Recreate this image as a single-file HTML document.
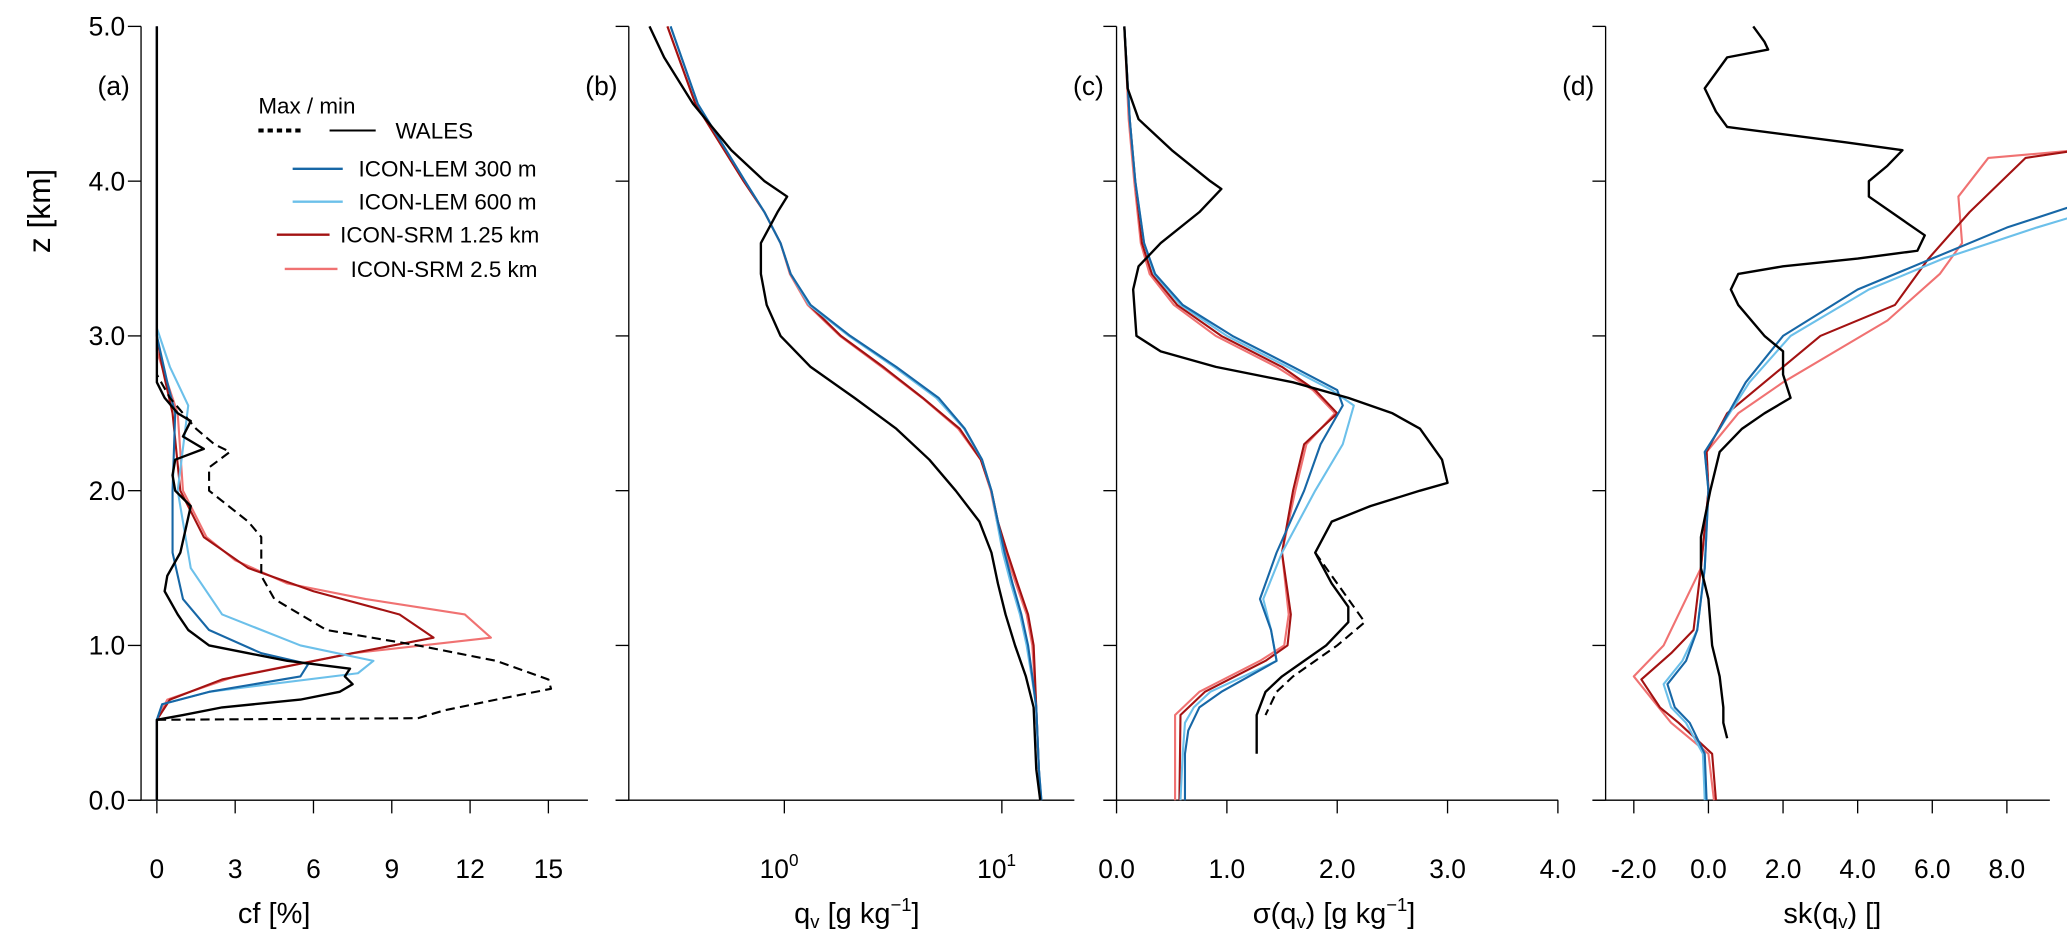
<!DOCTYPE html>
<html><head><meta charset="utf-8"><style>
html,body{margin:0;padding:0;background:#fff;}
svg{display:block;font-family:"Liberation Sans",sans-serif;}
</style></head><body>
<svg id="fig" width="2067" height="936" viewBox="0 0 1568 710" xmlns="http://www.w3.org/2000/svg">
<g id="axes"></g>
<g id="marks"></g>
<g font-size="17">
<text x="196" y="86">Max / min</text>
<line x1="196" y1="99" x2="231" y2="99" stroke="#000" stroke-width="3" stroke-dasharray="4,3"/>
<line x1="250" y1="99" x2="285" y2="99" stroke="#000" stroke-width="1.5"/>
<text x="300" y="105">WALES</text>
<line x1="222" y1="128" x2="260" y2="128" stroke="#1767a6" stroke-width="1.8"/>
<text x="272" y="134">ICON-LEM 300 m</text>
<line x1="222" y1="153" x2="260" y2="153" stroke="#6cc0ea" stroke-width="1.8"/>
<text x="272" y="159">ICON-LEM 600 m</text>
<line x1="210" y1="178" x2="250" y2="178" stroke="#a31212" stroke-width="1.8"/>
<text x="258" y="184">ICON-SRM 1.25 km</text>
<line x1="216" y1="204" x2="256" y2="204" stroke="#f07272" stroke-width="1.8"/>
<text x="266" y="210">ICON-SRM 2.5 km</text>
</g>
</svg>
<script>
const zA_black=[0,0.52,0.55,0.6,0.65,0.7,0.75,0.8,0.85,0.9,0.95,1.0,1.1,1.2,1.35,1.45,1.6,1.75,1.9,2.0,2.1,2.2,2.27,2.35,2.45,2.5,2.6,2.7,5.0];
const cfA_black=[0,0,1.0,2.5,5.5,7.0,7.5,7.2,7.4,5.0,3.5,2.0,1.2,0.8,0.3,0.4,0.9,1.1,1.3,0.7,0.6,0.7,1.8,1.0,1.3,0.8,0.3,0,0];
const zA_dash=[0.52,0.53,0.58,0.65,0.72,0.78,0.9,1.0,1.1,1.3,1.45,1.55,1.7,1.8,2.0,2.15,2.25,2.3,2.4,2.6,2.75];
const cfA_dash=[0,10.0,11.0,13.0,15.1,15.0,13.0,10.0,6.5,4.5,4.0,4.0,4.0,3.5,2.0,2.0,2.8,2.2,1.5,0.5,0];
const zA_lem300=[0,0.52,0.62,0.7,0.8,0.88,0.95,1.1,1.3,1.6,2.0,2.5,2.7,3.0,5.0];
const cfA_lem300=[0,0,0.2,2,5.5,5.8,4.0,2.0,1.0,0.6,0.6,0.7,0.4,0,0];
const zA_lem600=[0,0.52,0.62,0.7,0.82,0.9,1.0,1.2,1.5,2.0,2.55,2.8,3.05,5.0];
const cfA_lem600=[0,0,0.2,2,7.7,8.3,5.5,2.5,1.3,0.8,1.2,0.5,0,0];
const zA_srm125=[0,0.52,0.65,0.78,0.95,1.05,1.2,1.35,1.5,1.7,2.0,2.5,2.8,3.0,5.0];
const cfA_srm125=[0,0,0.5,2.5,7.5,10.6,9.3,6.0,3.5,1.8,0.9,0.6,0.2,0,0];
const zA_srm25=[0,0.52,0.65,0.8,0.95,1.05,1.2,1.3,1.4,1.55,1.7,2.0,2.5,2.9,5.0];
const cfA_srm25=[0,0,0.4,3,7.5,12.8,11.8,8.0,5.0,3.0,1.9,1.0,0.8,0,0];

const zB_black=[5.0,4.8,4.5,4.2,4.0,3.9,3.8,3.6,3.4,3.2,3.0,2.8,2.6,2.4,2.2,2.0,1.8,1.6,1.4,1.2,1.0,0.8,0.6,0.4,0.2,0];
const qB_black=[0.24,0.28,0.38,0.57,0.81,1.03,0.93,0.78,0.78,0.83,0.96,1.32,2.10,3.27,4.64,6.14,7.89,8.95,9.59,10.4,11.5,12.9,14.0,14.2,14.4,15.0];
const zB_model=[5.0,4.5,4.0,3.8,3.6,3.4,3.2,3.0,2.8,2.6,2.4,2.2,2.0,1.8,1.6,1.4,1.2,1.0,0.8,0.6,0.2,0];
const qB_lem300=[0.30,0.40,0.66,0.81,0.96,1.07,1.32,2.01,3.27,5.12,6.76,8.11,8.95,9.59,10.3,11.2,12.3,13.2,13.8,14.4,14.8,15.2];
const qB_lem600=[0.30,0.40,0.66,0.81,0.96,1.07,1.30,1.98,3.2,5.0,6.7,8.1,8.95,9.5,10.1,11.0,12.1,13.0,13.7,14.4,14.8,15.2];
const qB_srm125=[0.29,0.39,0.65,0.81,0.96,1.07,1.30,1.82,2.85,4.33,6.4,8.0,8.95,9.59,10.6,11.8,13.2,14.0,14.2,14.4,14.8,15.0];
const qB_srm25=[0.29,0.39,0.65,0.81,0.96,1.06,1.28,1.80,2.80,4.3,6.3,8.0,8.9,9.5,10.4,11.6,13.0,13.8,14.1,14.4,14.8,15.0];

const zC_black=[5.0,4.6,4.4,4.2,4.0,3.95,3.8,3.6,3.45,3.3,3.0,2.9,2.8,2.7,2.6,2.5,2.4,2.2,2.05,2.0,1.9,1.8,1.6,1.4,1.25,1.15,1.0,0.9,0.8,0.7,0.55,0.3];
const sC_black=[0.07,0.1,0.2,0.5,0.85,0.95,0.75,0.4,0.2,0.15,0.18,0.4,0.9,1.6,2.1,2.5,2.75,2.95,3.0,2.75,2.3,1.95,1.8,1.95,2.1,2.1,1.9,1.7,1.5,1.35,1.27,1.27];
const zC_dash=[1.6,1.4,1.25,1.15,1.0,0.9,0.8,0.7,0.55];
const sC_dash=[1.8,2.0,2.15,2.25,2.0,1.8,1.6,1.45,1.35];
const zC_lem300=[5.0,4.4,4.0,3.6,3.4,3.2,3.0,2.8,2.65,2.55,2.3,2.0,1.6,1.3,1.1,0.9,0.8,0.7,0.6,0.45,0.3,0];
const sC_lem300=[0.07,0.12,0.17,0.25,0.35,0.6,1.05,1.6,2.0,2.05,1.85,1.7,1.45,1.3,1.4,1.45,1.2,0.95,0.75,0.65,0.62,0.62];
const zC_lem600=[5.0,4.4,4.0,3.6,3.4,3.2,3.0,2.8,2.65,2.55,2.3,2.0,1.6,1.3,1.1,0.9,0.8,0.7,0.6,0.5,0.3,0];
const sC_lem600=[0.07,0.12,0.17,0.25,0.34,0.58,1.0,1.55,1.95,2.15,2.05,1.8,1.5,1.33,1.4,1.45,1.15,0.85,0.7,0.62,0.6,0.58];
const zC_srm125=[5.0,4.4,4.0,3.6,3.4,3.2,3.0,2.8,2.65,2.5,2.3,2.0,1.6,1.2,1.0,0.9,0.7,0.55,0];
const sC_srm125=[0.07,0.12,0.17,0.23,0.32,0.55,0.95,1.5,1.8,2.0,1.7,1.6,1.5,1.58,1.55,1.35,0.8,0.58,0.57];
const zC_srm25=[5.0,4.4,4.0,3.6,3.4,3.2,3.0,2.8,2.65,2.5,2.3,2.0,1.6,1.2,1.0,0.9,0.7,0.55,0];
const sC_srm25=[0.07,0.11,0.16,0.22,0.3,0.52,0.9,1.45,1.78,1.98,1.72,1.62,1.5,1.56,1.52,1.3,0.75,0.53,0.53];

const zD_black=[5.0,4.9,4.85,4.8,4.6,4.45,4.35,4.25,4.2,4.1,4.0,3.9,3.75,3.65,3.55,3.5,3.45,3.4,3.3,3.2,3.0,2.9,2.75,2.6,2.5,2.4,2.25,2.0,1.7,1.5,1.3,1.0,0.8,0.6,0.5,0.4];
const kD_black=[1.2,1.5,1.6,0.5,-0.1,0.2,0.5,3.7,5.2,4.8,4.3,4.3,5.2,5.8,5.6,4.0,2.0,0.8,0.6,0.8,1.5,2.0,2.0,2.2,1.5,0.9,0.3,0.05,-0.2,-0.2,0.0,0.1,0.3,0.4,0.4,0.5];
const zD_lem300=[0,0.3,0.5,0.6,0.75,0.9,1.1,1.5,2.0,2.25,2.4,2.7,3.0,3.3,3.5,3.7,3.85];
const kD_lem300=[-0.05,-0.1,-0.5,-0.9,-1.1,-0.6,-0.3,-0.1,0.0,-0.1,0.3,1.0,2.0,4.0,6.0,8.0,9.9];
const zD_lem600=[0,0.3,0.5,0.6,0.75,0.9,1.1,1.5,2.0,2.25,2.4,2.7,3.0,3.3,3.5,3.7,3.78];
const kD_lem600=[-0.1,-0.15,-0.6,-1.0,-1.2,-0.7,-0.3,-0.1,0.0,-0.1,0.3,1.1,2.2,4.3,6.3,8.8,9.9];
const zD_srm125=[0,0.3,0.5,0.6,0.78,0.95,1.1,1.5,2.0,2.25,2.5,2.7,3.0,3.2,3.5,3.8,4.15,4.2];
const kD_srm125=[0.2,0.1,-0.8,-1.3,-1.8,-1.0,-0.4,-0.2,0,-0.05,0.5,1.5,3.0,5.0,5.9,7.0,8.5,9.9];
const zD_srm25=[0,0.3,0.5,0.65,0.8,1.0,1.5,2.0,2.25,2.5,2.7,3.1,3.4,3.6,3.9,4.15,4.2];
const kD_srm25=[0.15,0.0,-1.0,-1.5,-2.0,-1.2,-0.2,0,-0.05,0.8,2.0,4.8,6.2,6.8,6.7,7.5,9.9];

const zTicks=["0.0","1.0","2.0","3.0","4.0","5.0"];
const cfTicks=["0","3","6","9","12","15"];
const sigTicks=["0.0","1.0","2.0","3.0","4.0"];
const skTicks=["-2.0","0.0","2.0","4.0","6.0","8.0"];

const NS="http://www.w3.org/2000/svg";
const Y=z=>607-z*117.4;
const xA=v=>119+v*19.8;
const xB=q=>595+165*Math.log10(q);
const xC=v=>847+v*83.7;
const xD=v=>1296+v*28.3;
const C={black:"#000",lem300:"#1767a6",lem600:"#6cc0ea",srm125:"#a31212",srm25:"#f07272"};
const axes=document.getElementById('axes'), marks=document.getElementById('marks');
function el(tag,attrs,parent){const e=document.createElementNS(NS,tag);for(const k in attrs)e.setAttribute(k,attrs[k]);parent.appendChild(e);return e;}
function line(name,zs,vs,fx,color,dash,w){
  let d=zs.map((z,i)=>(i?'L':'M')+fx(vs[i]).toFixed(1)+' '+Y(z).toFixed(1)).join('');
  const p=el('path',{d:d,fill:'none',stroke:color,'stroke-width':w||1.6,'stroke-linejoin':'round'},marks);
  if(dash)p.setAttribute('stroke-dasharray',dash);
  
  
}
function panel(id,spine,x1,ticks,fx,lab,labx,showY){
  const g=el('g',{},axes);
  
  
  el('line',{x1:spine,y1:Y(5),x2:spine,y2:Y(0),stroke:'#000','stroke-width':1},g);
  el('line',{x1:spine-10,y1:Y(0),x2:x1,y2:Y(0),stroke:'#000','stroke-width':1},g);
  zTicks.forEach(t=>{const z=parseFloat(t);el('line',{x1:spine-10,y1:Y(z),x2:spine,y2:Y(z),stroke:'#000','stroke-width':1},g);
    if(showY){const tx=el('text',{x:spine-12,y:Y(z)+7,'text-anchor':'end','font-size':20},g);tx.textContent=t;
      
      }});
  ticks.forEach(t=>{const v=parseFloat(t);const x=fx(v);el('line',{x1:x,y1:Y(0),x2:x,y2:Y(0)+10,stroke:'#000','stroke-width':1},g);
    const tx=el('text',{x:x,y:666,'text-anchor':'middle','font-size':20},g);tx.textContent=t;
    
    });
  const pl=el('text',{x:spine-33,y:72,'font-size':20},g);pl.textContent='('+id+')';
  
  
  const xl=el('text',{x:labx,y:700,'text-anchor':'middle','font-size':22},g);xl.innerHTML=lab;
  
  
}
panel('a',107,446,cfTicks,xA,'cf [%]',208,true);
panel('b',477,815,[],xB,'q<tspan font-size="14" dy="4">v</tspan><tspan dy="-4"> [g kg</tspan><tspan font-size="14" dy="-9">−1</tspan><tspan dy="9">]</tspan>',650,false);
panel('c',847,1182,sigTicks,xC,'σ(q<tspan font-size="14" dy="4">v</tspan><tspan dy="-4">) [g kg</tspan><tspan font-size="14" dy="-9">−1</tspan><tspan dy="9">]</tspan>',1012,false);
panel('d',1218,1555,skTicks,xD,'sk(q<tspan font-size="14" dy="4">v</tspan><tspan dy="-4">) []</tspan>',1390,false);
[[1,"0"],[10,"1"]].forEach(([v,e])=>{const x=xB(v);
  el('line',{x1:x,y1:Y(0),x2:x,y2:Y(0)+10,stroke:'#000','stroke-width':1},axes);
  const t=el('text',{x:x-4,y:666,'text-anchor':'middle','font-size':20},axes);
  t.innerHTML='10<tspan font-size="13" dy="-9">'+e+'</tspan>';
  
  });
const yt=el('text',{x:0,y:0,'font-size':24,'text-anchor':'middle',transform:'translate(38,160) rotate(-90)'},axes);
yt.textContent='z [km]';



line('a-srm25',zA_srm25,cfA_srm25,xA,C.srm25);
line('a-srm125',zA_srm125,cfA_srm125,xA,C.srm125);
line('a-lem600',zA_lem600,cfA_lem600,xA,C.lem600);
line('a-lem300',zA_lem300,cfA_lem300,xA,C.lem300);
line('a-wales-max',zA_dash,cfA_dash,xA,C.black,'7,4');
line('a-wales',zA_black,cfA_black,xA,C.black,null,1.8);
line('b-srm25',zB_model,qB_srm25,xB,C.srm25);
line('b-srm125',zB_model,qB_srm125,xB,C.srm125);
line('b-lem600',zB_model,qB_lem600,xB,C.lem600);
line('b-lem300',zB_model,qB_lem300,xB,C.lem300);
line('b-wales',zB_black,qB_black,xB,C.black,null,1.8);
line('c-srm25',zC_srm25,sC_srm25,xC,C.srm25);
line('c-srm125',zC_srm125,sC_srm125,xC,C.srm125);
line('c-lem600',zC_lem600,sC_lem600,xC,C.lem600);
line('c-lem300',zC_lem300,sC_lem300,xC,C.lem300);
line('c-wales-max',zC_dash,sC_dash,xC,C.black,'7,4');
line('c-wales',zC_black,sC_black,xC,C.black,null,1.8);
line('d-srm25',zD_srm25,kD_srm25,xD,C.srm25);
line('d-srm125',zD_srm125,kD_srm125,xD,C.srm125);
line('d-lem600',zD_lem600,kD_lem600,xD,C.lem600);
line('d-lem300',zD_lem300,kD_lem300,xD,C.lem300);
line('d-wales',zD_black,kD_black,xD,C.black,null,1.8);
</script>
</body></html>
